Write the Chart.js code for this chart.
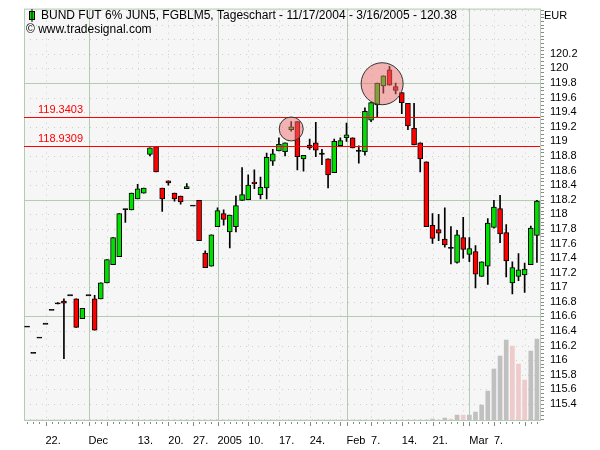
<!DOCTYPE html>
<html>
<head>
<meta charset="utf-8">
<script src="https://cdn.jsdelivr.net/npm/chart.js@4"></script>
<style>
  body { margin: 0; background: #fff; }
  #wrap { width: 600px; height: 450px; }
</style>
</head>
<body>
<div id="wrap"><canvas id="my-chart" width="600" height="450"></canvas></div>
<script>
// trading days 11/17/2004 - 3/16/2005
const dates = [
  '11/17','11/18','11/19','11/22','11/23','11/24','11/25','11/26','11/29','11/30',
  '12/1','12/2','12/3','12/6','12/7','12/8','12/9','12/10','12/13','12/14',
  '12/15','12/16','12/17','12/20','12/21','12/22','12/23','12/27','12/28','12/29',
  '12/30','1/3','1/4','1/5','1/6','1/7','1/10','1/11','1/12','1/13',
  '1/14','1/17','1/18','1/19','1/20','1/21','1/24','1/25','1/26','1/27',
  '1/28','1/31','2/1','2/2','2/3','2/4','2/7','2/8','2/9','2/10',
  '2/11','2/14','2/15','2/16','2/17','2/18','2/21','2/22','2/23','2/24',
  '2/25','2/28','3/1','3/2','3/3','3/4','3/7','3/8','3/9','3/10',
  '3/11','3/14','3/15','3/16'
];

const openP = [
  116.46,116.10,116.31,116.50,116.69,116.78,116.81,116.89,116.84,116.57,
  116.89,116.84,116.84,117.06,117.31,117.42,118.07,118.06,118.21,118.29,
  118.82,118.93,118.36,118.46,118.29,118.25,118.35,118.12,118.19,117.47,
  117.29,117.83,118.01,117.76,117.83,118.19,118.20,118.44,118.27,118.36,
  118.73,118.87,118.86,119.16,119.27,118.76,118.95,118.98,118.83,118.76,
  118.57,118.94,119.05,119.05,118.87,118.86,119.29,119.50,119.76,119.98,
  119.75,119.67,119.52,119.18,118.98,118.72,117.85,117.79,117.66,117.54,
  117.34,117.68,117.45,117.49,117.15,117.29,117.82,118.08,117.75,117.06,
  117.15,117.17,117.31,117.71
];
const highP = [
  116.46,116.10,116.31,116.50,116.69,116.79,116.84,116.89,116.84,116.71,
  116.89,116.89,117.06,117.38,117.68,118.01,118.07,118.29,118.41,118.36,
  118.91,118.93,118.36,118.46,118.29,118.25,118.42,118.12,118.19,117.50,
  117.72,118.09,118.06,117.99,118.25,118.64,118.54,118.61,118.51,118.84,
  118.89,119.05,118.98,119.27,119.27,118.81,119.03,119.26,118.89,118.76,
  119.03,119.05,119.25,119.05,118.94,119.46,119.53,119.80,119.90,120.03,
  119.80,119.67,119.52,119.52,118.98,118.72,118.01,118.00,118.09,117.83,
  117.78,117.96,117.68,117.57,117.35,117.94,118.19,118.26,117.86,117.35,
  117.46,117.33,117.84,118.19
];
const lowP = [
  116.46,116.10,116.31,116.50,116.69,116.77,116.02,116.89,116.45,116.57,
  116.89,116.41,116.84,117.06,117.31,117.42,117.89,118.06,118.21,118.29,
  118.80,118.58,118.04,118.40,118.18,118.14,118.35,118.12,117.64,117.27,
  117.29,117.83,117.85,117.54,117.76,118.19,118.20,118.35,118.21,118.21,
  118.67,118.87,118.80,119.14,118.61,118.59,118.89,118.79,118.68,118.36,
  118.57,118.94,119.00,118.91,118.70,118.81,119.27,119.34,119.66,119.77,
  119.65,119.38,119.16,118.95,118.58,117.83,117.60,117.64,117.55,117.32,
  117.33,117.40,117.35,116.99,117.15,117.04,117.81,117.61,117.14,116.91,
  117.09,116.93,117.31,117.34
];
const closeP = [
  116.46,116.10,116.31,116.50,116.69,116.78,116.78,116.89,116.45,116.71,
  116.89,116.41,117.06,117.38,117.68,118.01,118.07,118.29,118.35,118.36,
  118.91,118.58,118.21,118.43,118.21,118.17,118.38,118.12,117.64,117.27,
  117.72,118.05,117.93,117.99,118.12,118.27,118.40,118.42,118.37,118.78,
  118.83,118.96,118.98,119.20,118.79,118.81,118.91,118.88,118.83,118.54,
  119.00,119.01,119.09,118.91,118.87,119.41,119.53,119.80,119.90,119.77,
  119.70,119.53,119.21,118.95,118.76,117.83,117.67,117.74,117.58,117.54,
  117.72,117.52,117.53,117.18,117.35,117.88,118.10,117.73,117.36,117.27,
  117.24,117.25,117.81,118.18
];
const volume = [
  0,0,0,0,0,0,0,0,0,0, 0,0,0,0,0,0,0,0,0,0,
  0,0,0,0,0,0,0,0,0,0, 0,0,0,0,0,0,0,0,0,0,
  0,0,0,0,0,0,0,0,0,0, 0,0,0,0,0,0,0,0,0,0,
  0,0,0,0,0,0,1,0,2,1, 5,5,5,8,15,29,51,64,80,74,
  56,40,69,81
];
const volDown = [69, 71, 79, 80, 81];

// x axis labels
const tickIdx = [3, 10, 18, 23, 27, 31, 36, 41, 46, 52, 56, 61, 66, 72, 76];
const tickText = ['22.', 'Dec', '13.', '20.', '27.', '2005', '10.', '17.', '24.', 'Feb', '7.', '14.', '21.', 'Mar', '7.'];
const minorIdx = [13, 51, 71, 81];
const monthIdx = [10, 31, 52, 72];

const levels = [119.3403, 118.9309];
const majorY = [119.8, 118.2, 116.6, 115.0];

const wicks = dates.map((d, i) => [lowP[i], highP[i]]);
const bodies = dates.map((d, i) => {
  if (Math.abs(openP[i] - closeP[i]) < 0.015) return [openP[i] - 0.008, openP[i] + 0.008];
  return [openP[i], closeP[i]];
});
const bodyColor = dates.map((d, i) => {
  if (Math.abs(openP[i] - closeP[i]) < 0.015) return '#000';
  return closeP[i] > openP[i] ? '#00e000' : '#ff0000';
});
const volColor = dates.map((d, i) => volDown.includes(i) ? '#eecaca' : '#c0c0c0');

const FONT = '"Liberation Sans", Arial, sans-serif';

const decor = {
  id: 'decor',
  beforeDraw(chart) {
    const { ctx, chartArea: a, scales } = chart;
    const x = scales.x, y = scales.y;
    ctx.save();
    ctx.lineWidth = 1;
    ctx.fillStyle = '#f6f6f6';
    ctx.fillRect(a.left, a.top, a.right - a.left, a.bottom - a.top);
    // horizontal grid
    for (let v = 115.2; v <= 120.81; v += 0.2) {
      const py = Math.round(y.getPixelForValue(v)) + 0.5;
      const major = majorY.some(m => Math.abs(m - v) < 0.01);
      ctx.strokeStyle = major ? '#b4ccb4' : '#c8d0c8';
      ctx.setLineDash(major ? [] : [1, 5]);
      ctx.beginPath(); ctx.moveTo(a.left, py); ctx.lineTo(a.right, py); ctx.stroke();
    }
    // vertical grid
    const vlines = tickIdx.concat(minorIdx);
    vlines.forEach(i => {
      const major = monthIdx.includes(i);
      const px = Math.round(x.getPixelForValue(i)) + 0.5;
      ctx.strokeStyle = major ? '#b4ccb4' : '#c8d0c8';
      ctx.setLineDash(major ? [] : [1, 5]);
      ctx.beginPath(); ctx.moveTo(px, a.top); ctx.lineTo(px, a.bottom); ctx.stroke();
    });
    ctx.setLineDash([]);
    ctx.strokeStyle = '#b4ccb4';
    ctx.strokeRect(a.left + 0.5, a.top + 0.5, a.right - a.left, a.bottom - a.top);
    // axis tick marks
    ctx.strokeStyle = '#888';
    for (let v = 115.2; v <= 120.81; v += 0.05) {
      const py = Math.round(y.getPixelForValue(v)) + 0.5;
      ctx.beginPath(); ctx.moveTo(a.right + 1, py); ctx.lineTo(a.right + 4, py); ctx.stroke();
    }
    dates.forEach((d, i) => {
      const px = Math.round(x.getPixelForValue(i)) + 0.5;
      const big = vlines.includes(i);
      ctx.beginPath(); ctx.moveTo(px, a.bottom + 2); ctx.lineTo(px, a.bottom + (big ? 6 : 4)); ctx.stroke();
    });
    ctx.restore();
  },
  afterDatasetsDraw(chart) {
    const { ctx, chartArea: a, scales } = chart;
    const x = scales.x, y = scales.y;
    ctx.save();
    ctx.setLineDash([]);
    ctx.lineWidth = 1;
    // horizontal levels
    ctx.font = '11px ' + FONT;
    ctx.fillStyle = '#ff0000';
    levels.forEach(l => {
      const py = Math.round(y.getPixelForValue(l));
      ctx.fillRect(a.left, py, a.right - a.left, 1);
      ctx.fillText(l.toFixed(4), 38, py - 4);
    });
    // highlight circles
    const circ = [[43, 0, 119.17, 12], [57, 0.8, 119.79, 21]];
    circ.forEach(c => {
      const p0 = x.getPixelForValue(c[0]);
      const px = p0 + (x.getPixelForValue(c[0] + 1) - p0) * c[1];
      const py = y.getPixelForValue(c[2]);
      ctx.beginPath();
      ctx.arc(px, py, c[3], 0, Math.PI * 2);
      ctx.fillStyle = 'rgba(240,110,110,0.5)';
      ctx.fill();
      ctx.strokeStyle = '#333';
      ctx.stroke();
    });
    // title
    ctx.fillStyle = '#00e000';
    ctx.strokeStyle = '#000';
    ctx.fillRect(29.5, 11.5, 5, 8);
    ctx.strokeRect(29.5, 11.5, 5, 8);
    ctx.beginPath(); ctx.moveTo(32, 9); ctx.lineTo(32, 22); ctx.stroke();
    ctx.fillStyle = '#000';
    ctx.font = '12px ' + FONT;
    ctx.textBaseline = 'middle';
    ctx.fillText('BUND FUT 6% JUN5, FGBLM5, Tageschart - 11/17/2004 - 3/16/2005 - 120.38', 41, 16);
    ctx.fillText('\u00a9 www.tradesignal.com', 26, 30);
    ctx.font = '11px ' + FONT;
    ctx.fillText('EUR', a.right + 4, 16);
    ctx.restore();
  }
};

const ctx = document.getElementById('my-chart').getContext('2d');
new Chart(ctx, {
  type: 'bar',
  data: {
    labels: dates,
    datasets: [
      { data: volume, yAxisID: 'yv', backgroundColor: volColor, barThickness: 4, grouped: false, order: 3 },
      { data: wicks, yAxisID: 'y', backgroundColor: '#000', barThickness: 1, grouped: false, order: 2 },
      { data: bodies, yAxisID: 'y', backgroundColor: bodyColor, borderColor: '#000', borderWidth: 1,
        borderSkipped: false, barThickness: 5, grouped: false, order: 1 }
    ]
  },
  plugins: [decor],
  options: {
    responsive: false,
    animation: false,
    layout: { padding: { left: 24, top: 8, right: 0, bottom: 0 } },
    plugins: { legend: { display: false }, tooltip: { enabled: false } },
    scales: {
      x: {
        grid: { display: false }, border: { display: false },
        afterFit: s => { s.height = 30; },
        ticks: {
          autoSkip: false, maxRotation: 0, align: 'start', padding: 6,
          color: '#000', font: { family: FONT, size: 11 },
          callback: (v, i) => { const k = tickIdx.indexOf(i); return k < 0 ? '' : tickText[k]; }
        }
      },
      y: {
        position: 'right', min: 115.18, max: 120.82,
        grid: { display: false }, border: { display: false },
        afterFit: s => { s.width = 60; },
        afterBuildTicks: s => {
          const t = [];
          for (let k = 0; k <= 24; k++) t.push({ value: +(115.4 + k * 0.2).toFixed(1) });
          s.ticks = t;
        },
        ticks: {
          padding: 2, color: '#000', font: { family: FONT, size: 11 },
          callback: v => +v.toFixed(1)
        }
      },
      yv: { display: false, min: 0, max: 412 }
    }
  }
});
</script>
</body>
</html>
